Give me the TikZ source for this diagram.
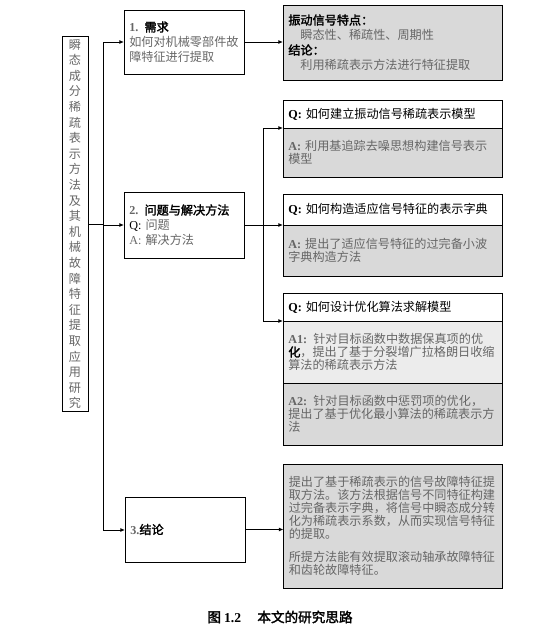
\documentclass[tikz,border=0pt]{standalone}
\usepackage{fontspec}
\setmainfont{Noto Sans CJK SC}[AutoFakeBold=2]
\newfontfamily\latin{Liberation Serif}
\usepackage{xcolor}
\usepackage{tikz}
\usetikzlibrary{arrows.meta,positioning}
\newcommand\lab[1]{{\latin\bfseries #1}}
\newcommand\hd[1]{{\color{black}\bfseries #1}}

\begin{document}
\begin{tikzpicture}[
x=0.75pt,y=-0.75pt,
node distance=0pt,
box/.style={draw,line width=0.75pt,outer sep=0pt,inner xsep=4pt,inner ysep=2pt,align=left,text=black!60,font=\fontsize{9.1}{11.25}\selectfont},
lbox/.style={box,text width=82pt},
rbox/.style={box,text width=156.25pt},
qbox/.style={rbox,fill=white,text=black},
abox/.style={rbox,fill=gray!30,font=\fontsize{9.1}{9.6}\selectfont},
arr/.style={-{Latex[length=3.5pt,width=3pt]},line width=0.7pt},
ln/.style={line width=0.7pt}
]
\useasboundingbox (0,0) rectangle (554,637);
\node[box,align=center,inner xsep=2pt,text width=15.5pt,minimum height=280.5pt,font=\fontsize{9.1}{11.7}\selectfont] (topic) at (75,224)
{瞬\\态\\成\\分\\稀\\疏\\表\\示\\方\\法\\及\\其\\机\\械\\故\\障\\特\\征\\提\\取\\应\\用\\研\\究};
\node[lbox,minimum height=48pt] (need) at (184,42) {\lab{1.} \hd{需求}\\如何对机械零部件故\\障特征进行提取};
\node[lbox,minimum height=49.5pt] (prob) at (184,225) {\lab{2.} \hd{问题与解决方法}\\{\latin\color{black}Q:} 问题\\{\latin A:} 解决方法};
\node[lbox,minimum height=48.75pt] (concl) at (185,529.5) {\lab{3.}\hd{结论}};
\node[rbox,fill=gray!30,minimum height=56.25pt] (feat) at (392.5,42.5) {\hd{振动信号特点：}\\\hspace*{1em}瞬态性、稀疏性、周期性\\\hd{结论：}\\\hspace*{1em}利用稀疏表示方法进行特征提取};
\node[qbox,minimum height=21pt,anchor=north] (q1) at (392.5,100) {\lab{Q:} 如何建立振动信号稀疏表示模型};
\node[abox,minimum height=36.75pt,below=of q1] (a1) {\lab{A:} 利用基追踪去噪思想构建信号表示\\模型};
\node[qbox,minimum height=23.25pt,anchor=north] (q2) at (392.5,194) {\lab{Q:} 如何构造适应信号特征的表示字典};
\node[abox,minimum height=38.25pt,below=of q2] (a2) {\lab{A:} 提出了适应信号特征的过完备小波\\字典构造方法};
\node[qbox,minimum height=21pt,anchor=north] (q3) at (392.5,293) {\lab{Q:} 如何设计优化算法求解模型};
\node[abox,fill=gray!15,minimum height=46.5pt,below=of q3] (a3) {\lab{A1:} 针对目标函数中数据保真项的优\\\hd{化}，提出了基于分裂增广拉格朗日收缩\\算法的稀疏表示方法};
\node[abox,minimum height=46.5pt,below=of a3] (a4) {\lab{A2:} 针对目标函数中惩罚项的优化，\\提出了基于优化最小算法的稀疏表示方\\法};
\node[abox,minimum height=93pt,font=\fontsize{9.1}{9.75}\selectfont] (res) at (393,526) {提出了基于稀疏表示的信号故障特征提\\取方法。该方法根据信号不同特征构建\\过完备表示字典，将信号中瞬态成分转\\化为稀疏表示系数，从而实现信号特征\\的提取。\\[8pt]所提方法能有效提取滚动轴承故障特征\\和齿轮故障特征。\\[14pt]};
\node[font=\fontsize{10.2}{12}\selectfont\bfseries] (cap) at (280,617) {图 \lab{1.2}\hspace{1.2em}本文的研究思路};
\coordinate (t1) at (103,42);
\coordinate (t2) at (103,530);
\coordinate (s1) at (263,128);
\coordinate (s2) at (263,321);
\draw[ln] (topic.east) -- (topic.east -| t1);
\draw[ln] (t1) -- (t2);
\draw[arr] (t1) -- (need.west);
\draw[arr] (t1 |- prob.west) -- (prob.west);
\draw[arr] (t2) -- (t2 -| concl.west);
\draw[arr] (need.east) -- (need.east -| feat.west);
\draw[ln] (prob.east) -- (prob.east -| s1);
\draw[ln] (s1) -- (s2);
\draw[arr] (s1) -- (q1.south west);
\draw[arr] (s1 |- q2.south west) -- (q2.south west);
\draw[arr] (s2) -- (q3.south west);
\draw[arr] (concl.east) -- (concl.east -| res.west);
\end{tikzpicture}
\end{document}
